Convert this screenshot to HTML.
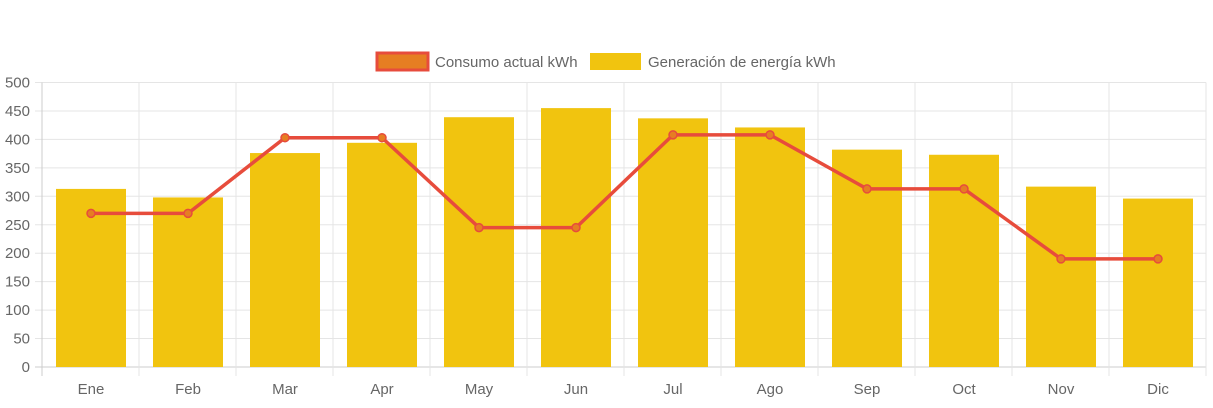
<!DOCTYPE html>
<html><head><meta charset="utf-8"><style>
body{margin:0;background:#fff;font-family:"Liberation Sans",sans-serif}
svg text{font-family:"Liberation Sans",sans-serif;fill:#666;font-size:15px}
</style></head><body>
<svg id="c" width="1213" height="403">
<g>
<g><rect x="377" y="53" width="51" height="17" fill="#e67e22" stroke="#e74c3c" stroke-width="3"/><text x="435" y="67">Consumo actual kWh</text></g>
<g><rect x="590" y="53" width="51" height="17" fill="#f1c40f"/><text x="648" y="67">Generación de energía kWh</text></g>
</g>
</svg>
<script>
const categories=["Ene","Feb","Mar","Apr","May","Jun","Jul","Ago","Sep","Oct","Nov","Dic"];
const generacion=[313,298,376,394,439,455,437,421,382,373,317,296];
const consumo=[270,270,403,403,245,245,408,408,313,313,190,190];
const yTicks=[0,50,100,150,200,250,300,350,400,450,500];
const svg=document.getElementById('c');const NS="http://www.w3.org/2000/svg";
const L=42,R=1206,T=82.5,B=367,cw=(R-L)/categories.length;
const y=v=>B-(v/500)*(B-T);const xc=i=>L+cw*(i+0.5)+0.5;
function mk(t,a,p){const e=document.createElementNS(NS,t);for(const k in a)e.setAttribute(k,a[k]);(p||svg).appendChild(e);return e;}
const grid=mk('g',{});


yTicks.forEach(v=>{mk('line',{x1:L-7,x2:R,y1:y(v),y2:y(v),stroke:v===0?'#ccc':'#e5e5e5'},grid);
const t=mk('text',{x:L-12,y:y(v)+5,'text-anchor':'end'});t.textContent=v;

});
for(let i=0;i<=categories.length;i++)mk('line',{x1:L+cw*i,x2:L+cw*i,y1:T,y2:B+9,stroke:i===0?'#ccc':'#e5e5e5'},grid);
categories.forEach((c,i)=>{const t=mk('text',{x:xc(i),y:394,'text-anchor':'middle'});t.textContent=c;

});
generacion.forEach((v,i)=>{const r=mk('rect',{x:xc(i)-35,y:y(v),width:70,height:B-y(v),fill:'#f1c40f'});

});
const line=mk('polyline',{points:consumo.map((v,i)=>xc(i)+','+y(v)).join(' '),fill:'none',stroke:'#e74c3c','stroke-width':3.5});


consumo.forEach((v,i)=>{const c=mk('circle',{cx:xc(i),cy:y(v),r:4,fill:'#e67e22',stroke:'#e74c3c','stroke-width':1.5});

});
</script>
</body></html>
